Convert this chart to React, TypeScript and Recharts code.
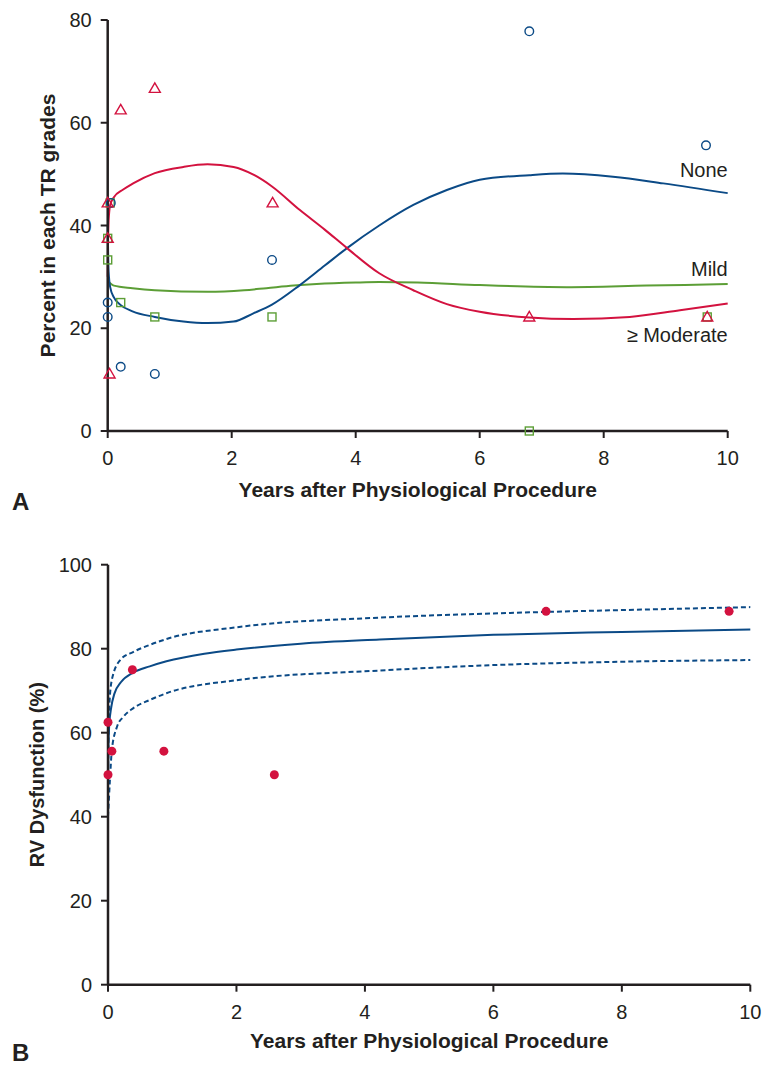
import React from 'react';
import { ComposedChart, Line, Scatter, XAxis, YAxis, ReferenceDot, Label } from 'recharts';

const FONT = '"Liberation Sans", Arial, Helvetica, sans-serif';
const AXIS = '#231f20';
const BLUE = '#0b4a86';
const RED = '#d3123f';
const GREEN = '#5c9e36';

const xTicks = [0, 2, 4, 6, 8, 10];
const yTicksA = [0, 20, 40, 60, 80];
const yTicksB = [0, 20, 40, 60, 80, 100];

// ---------- Panel A : observed percentages ----------
const noneObs = [
  { x: 0, y: 25 }, { x: 0, y: 22.2 }, { x: 0.05, y: 44.4 }, { x: 0.21, y: 12.5 },
  { x: 0.76, y: 11.1 }, { x: 2.65, y: 33.3 }, { x: 6.8, y: 77.8 }, { x: 9.65, y: 55.6 },
];
const mildObs = [
  { x: 0.04, y: 44.4 }, { x: 0, y: 37.5 }, { x: 0, y: 33.3 }, { x: 0.21, y: 25 },
  { x: 0.76, y: 22.2 }, { x: 2.65, y: 22.2 }, { x: 6.8, y: 0 }, { x: 9.67, y: 22.2 },
];
const modObs = [
  { x: 0, y: 44.4 }, { x: 0, y: 37.5 }, { x: 0.03, y: 11.1 }, { x: 0.21, y: 62.5 },
  { x: 0.76, y: 66.7 }, { x: 2.66, y: 44.4 }, { x: 6.8, y: 22.2 }, { x: 9.67, y: 22.2 },
];

// ---------- Panel A : fitted curves ----------
const noneFit = [
  { x: 0, y: 40 }, { x: 0.005, y: 36 }, { x: 0.015, y: 31 }, { x: 0.04, y: 28 },
  { x: 0.1, y: 26 }, { x: 0.2, y: 24.6 }, { x: 0.4, y: 23.3 }, { x: 0.76, y: 22.2 },
  { x: 1.22, y: 21.3 }, { x: 1.61, y: 21.0 }, { x: 2.03, y: 21.3 }, { x: 2.35, y: 22.9 },
  { x: 2.65, y: 24.6 }, { x: 3.1, y: 28.4 }, { x: 3.5, y: 32.2 }, { x: 3.86, y: 35.6 },
  { x: 4.38, y: 40 }, { x: 4.93, y: 44 }, { x: 5.47, y: 46.9 }, { x: 6.0, y: 48.9 },
  { x: 6.8, y: 49.8 }, { x: 7.34, y: 50.1 }, { x: 8.15, y: 49.5 }, { x: 8.96, y: 48.2 },
  { x: 10, y: 46.3 },
];
const mildFit = [
  { x: 0, y: 29.2 }, { x: 0.1, y: 28.3 }, { x: 0.4, y: 27.8 }, { x: 0.76, y: 27.4 },
  { x: 1.61, y: 27.1 }, { x: 2.2, y: 27.4 }, { x: 2.56, y: 27.8 }, { x: 3.0, y: 28.3 },
  { x: 3.37, y: 28.6 }, { x: 4.0, y: 28.9 }, { x: 4.38, y: 29.0 }, { x: 5.0, y: 28.9 },
  { x: 6.0, y: 28.4 }, { x: 7.4, y: 28.0 }, { x: 8.69, y: 28.3 }, { x: 10, y: 28.6 },
];
const modFit = [
  { x: 0, y: 30 }, { x: 0.005, y: 36 }, { x: 0.015, y: 41 }, { x: 0.04, y: 44 },
  { x: 0.1, y: 45.5 }, { x: 0.25, y: 47 }, { x: 0.41, y: 48.2 }, { x: 0.76, y: 50.2 },
  { x: 1.22, y: 51.4 }, { x: 1.61, y: 51.9 }, { x: 2.03, y: 51.4 }, { x: 2.35, y: 49.9 },
  { x: 2.65, y: 47.6 }, { x: 3.1, y: 43 }, { x: 3.5, y: 39.2 }, { x: 3.86, y: 35.6 },
  { x: 4.38, y: 30.7 }, { x: 4.93, y: 27.4 }, { x: 5.47, y: 24.7 }, { x: 6.0, y: 23.2 },
  { x: 6.8, y: 22.1 }, { x: 7.51, y: 21.8 }, { x: 8.42, y: 22.2 }, { x: 9.23, y: 23.5 },
  { x: 10, y: 24.8 },
];

// curve name annotations (anchored at x = 10, right aligned)
const curveNames = [
  { text: 'None', y: 50.9 },
  { text: 'Mild', y: 31.6 },
  { text: '\u2265 Moderate', y: 18.8 },
];

// ---------- Panel B ----------
const rvObs = [
  { x: 0, y: 62.5 }, { x: 0.06, y: 55.6 }, { x: 0, y: 50 }, { x: 0.38, y: 75 },
  { x: 0.87, y: 55.6 }, { x: 2.59, y: 50 }, { x: 6.82, y: 88.9 }, { x: 9.67, y: 88.9 },
];
const rvFit = [
  { x: 0, y: 48 }, { x: 0.005, y: 56 }, { x: 0.02, y: 62 }, { x: 0.05, y: 66 },
  { x: 0.1, y: 69.3 }, { x: 0.2, y: 72 }, { x: 0.39, y: 74.3 }, { x: 0.65, y: 75.8 },
  { x: 0.91, y: 77.0 }, { x: 1.5, y: 78.8 }, { x: 2, y: 79.8 }, { x: 3, y: 81.2 },
  { x: 4.23, y: 82.2 }, { x: 6, y: 83.3 }, { x: 8, y: 84.0 }, { x: 10, y: 84.6 },
];
const rvUpper = [
  { x: 0, y: 50 }, { x: 0.01, y: 60 }, { x: 0.02, y: 66.2 }, { x: 0.06, y: 72.6 },
  { x: 0.19, y: 77.3 }, { x: 0.39, y: 79.2 }, { x: 0.65, y: 80.9 }, { x: 0.91, y: 82.3 },
  { x: 2, y: 85.1 }, { x: 4.23, y: 87.4 }, { x: 6, y: 88.4 }, { x: 8, y: 89.2 },
  { x: 10, y: 89.9 },
];
const rvLower = [
  { x: 0, y: 40 }, { x: 0.03, y: 48.7 }, { x: 0.06, y: 55.9 }, { x: 0.14, y: 61.4 },
  { x: 0.24, y: 63.8 }, { x: 0.39, y: 65.8 }, { x: 0.65, y: 67.8 }, { x: 0.91, y: 69.4 },
  { x: 2, y: 72.5 }, { x: 4.23, y: 74.8 }, { x: 6, y: 76.1 }, { x: 8, y: 76.9 },
  { x: 10, y: 77.3 },
];

const OpenCircle = (p: any) => (
  <circle cx={p.cx} cy={p.cy} r={4.3} fill="none" stroke={BLUE} strokeWidth={1.4} />
);
const OpenSquare = (p: any) => (
  <rect x={p.cx - 4} y={p.cy - 4} width={8} height={8} fill="none" stroke={GREEN} strokeWidth={1.4} />
);
const OpenTriangle = (p: any) => (
  <polygon
    points={`${p.cx},${p.cy - 5.5} ${p.cx - 5.5},${p.cy + 4} ${p.cx + 5.5},${p.cy + 4}`}
    fill="none"
    stroke={RED}
    strokeWidth={1.4}
  />
);
const FilledDot = (p: any) => <circle cx={p.cx} cy={p.cy} r={4.5} fill={RED} />;

const axisLineProps = { stroke: AXIS, strokeWidth: 2.5 };
const tickLineProps = { stroke: AXIS, strokeWidth: 2 };
const tickProps = { fill: AXIS, fontSize: 20, fontFamily: FONT };

export default function App() {
  return (
    <div
      style={{
        position: 'absolute',
        left: 0,
        top: 0,
        width: 762,
        height: 1070,
        background: '#fff',
        fontFamily: FONT,
      }}
    >
      <div style={{ position: 'absolute', left: 0, top: 0 }}>
        <ComposedChart width={762} height={530} margin={{ top: 20, right: 34.3, bottom: 29, left: 0 }}>
          <XAxis
            type="number"
            dataKey="x"
            domain={[0, 10]}
            ticks={xTicks}
            interval={0}
            height={70}
            axisLine={axisLineProps}
            tickLine={tickLineProps}
            tickSize={7}
            tickMargin={13}
            tick={tickProps}
          >
            <Label
              value="Years after Physiological Procedure"
              position="insideBottom"
              offset={4}
              fill={AXIS}
              fontSize={21}
              fontWeight={700}
            />
          </XAxis>
          <YAxis
            type="number"
            dataKey="y"
            domain={[0, 80]}
            ticks={yTicksA}
            interval={0}
            width={107.7}
            axisLine={axisLineProps}
            tickLine={tickLineProps}
            tickSize={7}
            tickMargin={9}
            tick={tickProps}
          >
            <Label
              value="Percent in each TR grades"
              angle={-90}
              position="insideLeft"
              offset={47.5}
              fill={AXIS}
              fontSize={21}
              fontWeight={700}
              style={{ textAnchor: 'middle' }}
            />
          </YAxis>
          <Line data={mildFit} dataKey="y" type="monotone" stroke={GREEN} strokeWidth={2} dot={false} activeDot={false} isAnimationActive={false} />
          <Line data={noneFit} dataKey="y" type="monotone" stroke={BLUE} strokeWidth={2} dot={false} activeDot={false} isAnimationActive={false} />
          <Line data={modFit} dataKey="y" type="monotone" stroke={RED} strokeWidth={2} dot={false} activeDot={false} isAnimationActive={false} />
          <Scatter data={mildObs} dataKey="y" shape={OpenSquare} isAnimationActive={false} />
          <Scatter data={noneObs} dataKey="y" shape={OpenCircle} isAnimationActive={false} />
          <Scatter data={modObs} dataKey="y" shape={OpenTriangle} isAnimationActive={false} />
          {curveNames.map((c) => (
            <ReferenceDot
              key={c.text}
              x={10}
              y={c.y}
              r={0}
              fill="none"
              stroke="none"
              label={{ value: c.text, position: 'left', offset: 0, fill: AXIS, fontSize: 20, fontFamily: FONT }}
            />
          ))}
        </ComposedChart>
      </div>

      <div style={{ position: 'absolute', left: 0, top: 540 }}>
        <ComposedChart width={762} height={530} margin={{ top: 24.7, right: 11.7, bottom: 15.3, left: 0 }}>
          <XAxis
            type="number"
            dataKey="x"
            domain={[0, 10]}
            ticks={xTicks}
            interval={0}
            height={70}
            axisLine={axisLineProps}
            tickLine={tickLineProps}
            tickSize={7}
            tickMargin={13}
            tick={tickProps}
          >
            <Label
              value="Years after Physiological Procedure"
              position="insideBottom"
              offset={6.7}
              fill={AXIS}
              fontSize={21}
              fontWeight={700}
            />
          </XAxis>
          <YAxis
            type="number"
            dataKey="y"
            domain={[0, 100]}
            ticks={yTicksB}
            interval={0}
            width={108}
            axisLine={axisLineProps}
            tickLine={tickLineProps}
            tickSize={7}
            tickMargin={9}
            tick={tickProps}
          >
            <Label
              value="RV Dysfunction (%)"
              angle={-90}
              position="insideLeft"
              offset={37}
              fill={AXIS}
              fontSize={20}
              fontWeight={700}
              style={{ textAnchor: 'middle' }}
            />
          </YAxis>
          <Line data={rvUpper} dataKey="y" type="monotone" stroke={BLUE} strokeWidth={2} strokeDasharray="5 3" dot={false} activeDot={false} isAnimationActive={false} />
          <Line data={rvLower} dataKey="y" type="monotone" stroke={BLUE} strokeWidth={2} strokeDasharray="5 3" dot={false} activeDot={false} isAnimationActive={false} />
          <Line data={rvFit} dataKey="y" type="monotone" stroke={BLUE} strokeWidth={2} dot={false} activeDot={false} isAnimationActive={false} />
          <Scatter data={rvObs} dataKey="y" shape={FilledDot} isAnimationActive={false} />
        </ComposedChart>
      </div>

      <svg width={762} height={1070} style={{ position: 'absolute', left: 0, top: 0, pointerEvents: 'none' }}>
        <text x={12} y={510} fontSize={24} fontWeight={700} fill={AXIS} fontFamily={FONT}>A</text>
        <text x={12} y={1060.5} fontSize={24} fontWeight={700} fill={AXIS} fontFamily={FONT}>B</text>
      </svg>
    </div>
  );
}
